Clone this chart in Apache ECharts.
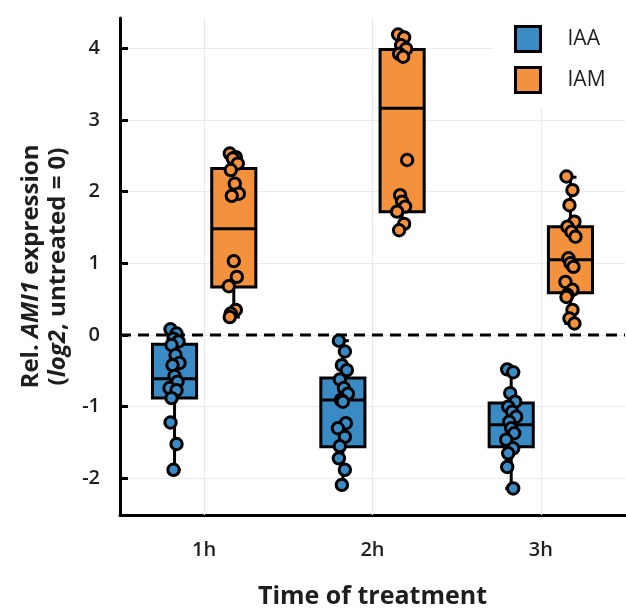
<!DOCTYPE html>
<html><head><meta charset="utf-8">
<script src="https://cdn.jsdelivr.net/npm/echarts@6/dist/echarts.min.js"></script>
<style>html,body{margin:0;padding:0;background:#fff}#c{width:626px;height:611px}</style>
</head><body><div id="c"></div>
<script>
// ---- data ----
const categories = ['1h', '2h', '3h'];
const yTicks = [-2, -1, 0, 1, 2, 3, 4];
const refLevel = [0];   // untreated reference level (dashed line)
// box stats per category: [min, Q1, median, Q3, max]
const iaaBox = [
  [-1.88, -0.88, -0.61, -0.13, 0.08],
  [-2.09, -1.56, -0.905, -0.60, -0.08],
  [-2.14, -1.56, -1.25, -0.95, -0.50]
];
const iamBox = [
  [0.25, 0.67, 1.48, 2.32, 2.52],
  [1.49, 1.72, 3.16, 3.98, 4.20],
  [0.16, 0.59, 1.05, 1.51, 2.20]
];
const iaa1h = [0.08, 0.02, -0.05, -0.09, -0.14, -0.28, -0.39, -0.42, -0.57, -0.65, -0.74, -0.77, -0.88, -1.22, -1.52, -1.88];
const iaa2h = [-0.08, -0.23, -0.42, -0.49, -0.62, -0.74, -0.82, -0.905, -0.93, -1.23, -1.30, -1.42, -1.55, -1.72, -1.88, -2.09];
const iaa3h = [-0.48, -0.52, -0.81, -0.93, -1.00, -1.07, -1.14, -1.21, -1.30, -1.37, -1.46, -1.58, -1.65, -1.84, -2.14];
const iam1h = [2.53, 2.48, 2.46, 2.39, 2.30, 2.11, 1.97, 1.94, 1.03, 0.81, 0.68, 0.35, 0.30, 0.25];
const iam2h = [4.19, 4.15, 4.04, 3.99, 3.92, 3.88, 2.44, 1.95, 1.86, 1.79, 1.72, 1.55, 1.46];
const iam3h = [2.21, 2.02, 1.81, 1.58, 1.51, 1.44, 1.37, 1.07, 1.00, 0.95, 0.74, 0.63, 0.56, 0.53, 0.35, 0.23, 0.16];

// ---- styling ----
const BLUE = '#3a8bc4';
const ORANGE = '#f3913c';
const FONT = '"Open Sans", "Noto Sans", sans-serif';
const TXT = '#1e1e1e';
const BOX_FRAC = 0.262;   // box width as share of band
const OFF_FRAC = 0.176;   // box centre offset from category centre
const JIT = [-4, 2, -1, 4, -3, 1, 5, -2, 0, 3, -5, 2, -3];

function boxData(stats) {
  return stats.map((s, i) => [i].concat(s));
}
function pointData(groups) {
  const out = [];
  groups.forEach((g, ci) => g.forEach((v, i) => out.push([ci, v, i])));
  return out;
}

function boxRender(side, color) {
  return function (params, api) {
    const cat = api.value(0);
    const band = api.size([1, 0])[0];
    const cx = api.coord([cat, 0])[0] + side * OFF_FRAC * band;
    const w = BOX_FRAC * band;
    const y = k => api.coord([cat, api.value(k)])[1];
    const yMin = y(1), yQ1 = y(2), yMed = y(3), yQ3 = y(4), yMax = y(5);
    const ls = { stroke: '#000', lineWidth: 3 };
    const cap = 6;
    return {
      type: 'group',
      children: [
        { type: 'line', shape: { x1: cx, y1: yQ3, x2: cx, y2: yMax }, style: ls },
        { type: 'line', shape: { x1: cx, y1: yQ1, x2: cx, y2: yMin }, style: ls },
        { type: 'line', shape: { x1: cx - cap, y1: yMax, x2: cx + cap, y2: yMax }, style: ls },
        { type: 'line', shape: { x1: cx - cap, y1: yMin, x2: cx + cap, y2: yMin }, style: ls },
        { type: 'rect', shape: { x: cx - w / 2, y: yQ3, width: w, height: yQ1 - yQ3 },
          style: { fill: color, stroke: '#000', lineWidth: 3 } },
        { type: 'line', shape: { x1: cx - w / 2, y1: yMed, x2: cx + w / 2, y2: yMed },
          style: { stroke: '#000', lineWidth: 3 } }
      ]
    };
  };
}

function pointRender(side, color) {
  return function (params, api) {
    const cat = api.value(0);
    const band = api.size([1, 0])[0];
    const p = api.coord([cat, api.value(1)]);
    const idx = api.value(2);
    const cx = p[0] + side * OFF_FRAC * band + JIT[idx % JIT.length];
    return {
      type: 'circle',
      shape: { cx: cx, cy: p[1], r: 5.7 },
      style: { fill: color, stroke: '#000', lineWidth: 3 }
    };
  };
}

function refRender(params, api) {
  const cs = params.coordSys;
  const yy = api.coord([0, api.value(1)])[1];
  return {
    type: 'line',
    shape: { x1: cs.x, y1: yy, x2: cs.x + cs.width, y2: yy },
    style: { stroke: '#000', lineWidth: 3.2, lineDash: [11, 7] }
  };
}

const chart = echarts.init(document.getElementById('c'), null, { renderer: 'canvas' });
chart.setOption({
  animation: false,
  backgroundColor: '#fff',
  grid: { left: 120, right: 1, top: 18, bottom: 96, containLabel: false, outerBoundsMode: 'none' },
  legend: {
    orient: 'vertical',
    left: 493, top: 13,
    padding: [12, 20, 14, 21],
    backgroundColor: '#fff',
    itemWidth: 25, itemHeight: 25, itemGap: 13,
    textStyle: { fontFamily: FONT, fontSize: 21, color: TXT, padding: [0, 0, 0, 22] },
    data: [
      { name: 'IAA', icon: 'rect', itemStyle: { color: BLUE, borderColor: '#000', borderWidth: 3 } },
      { name: 'IAM', icon: 'rect', itemStyle: { color: ORANGE, borderColor: '#000', borderWidth: 3 } }
    ]
  },
  xAxis: {
    type: 'category',
    data: categories,
    boundaryGap: true,
    name: 'Time of treatment',
    nameLocation: 'middle',
    nameGap: 69,
    nameTextStyle: { fontFamily: FONT, fontWeight: 'bold', fontSize: 25, color: TXT },
    axisLine: { onZero: false, lineStyle: { color: '#000', width: 3 } },
    axisTick: { alignWithLabel: true, length: 10, lineStyle: { color: '#000', width: 3 } },
    axisLabel: { fontFamily: FONT, fontWeight: 600, fontSize: 20, color: TXT, margin: 25 },
    splitLine: { show: false }
  },
  yAxis: {
    type: 'value',
    min: -2.51, max: 4.42,
    name: '{b|Rel. }{bi|AMI1}{b| expression}\n{b|(}{bi|log2}{b|, untreated = 0)}',
    nameLocation: 'middle',
    nameRotate: 90,
    nameGap: 48,
    nameTextStyle: {
      rich: {
        b: { fontFamily: FONT, fontWeight: 'bold', fontSize: 24, color: TXT, lineHeight: 27 },
        bi: { fontFamily: FONT, fontWeight: 'bold', fontStyle: 'italic', fontSize: 24, color: TXT, lineHeight: 27 }
      }
    },
    axisLine: { show: true, onZero: false, lineStyle: { color: '#000', width: 3 } },
    axisTick: { show: true, inside: true, length: 8, customValues: yTicks, lineStyle: { color: '#000', width: 3 } },
    axisLabel: { fontFamily: FONT, fontWeight: 600, fontSize: 20, color: TXT, margin: 20, customValues: yTicks },
    splitLine: { show: true, lineStyle: { color: '#ebebeb', width: 1.2 } }
  },
  series: [
    {
      name: 'IAA', type: 'custom', z: 2,
      renderItem: boxRender(-1, BLUE),
      dimensions: ['cat', 'min', 'q1', 'med', 'q3', 'max'],
      encode: { x: 0, y: [1, 2, 3, 4, 5] },
      data: boxData(iaaBox),
      markLine: {
        silent: true, symbol: 'none', z: 1, label: { show: false },
        lineStyle: { color: '#ebebeb', width: 1.2, type: 'solid' },
        data: categories.map(c => ({ xAxis: c }))
      }
    },
    {
      name: 'IAM', type: 'custom', z: 2,
      renderItem: boxRender(1, ORANGE),
      dimensions: ['cat', 'min', 'q1', 'med', 'q3', 'max'],
      encode: { x: 0, y: [1, 2, 3, 4, 5] },
      data: boxData(iamBox)
    },
    {
      name: 'ref', type: 'custom', z: 3, silent: true,
      renderItem: refRender,
      encode: { x: 0, y: 1 },
      data: refLevel.map(v => [0, v])
    },
    {
      name: 'IAA', type: 'custom', z: 4,
      renderItem: pointRender(-1, BLUE),
      encode: { x: 0, y: 1 },
      data: pointData([iaa1h, iaa2h, iaa3h])
    },
    {
      name: 'IAM', type: 'custom', z: 4,
      renderItem: pointRender(1, ORANGE),
      encode: { x: 0, y: 1 },
      data: pointData([iam1h, iam2h, iam3h])
    }
  ]
});
</script>
</body></html>
